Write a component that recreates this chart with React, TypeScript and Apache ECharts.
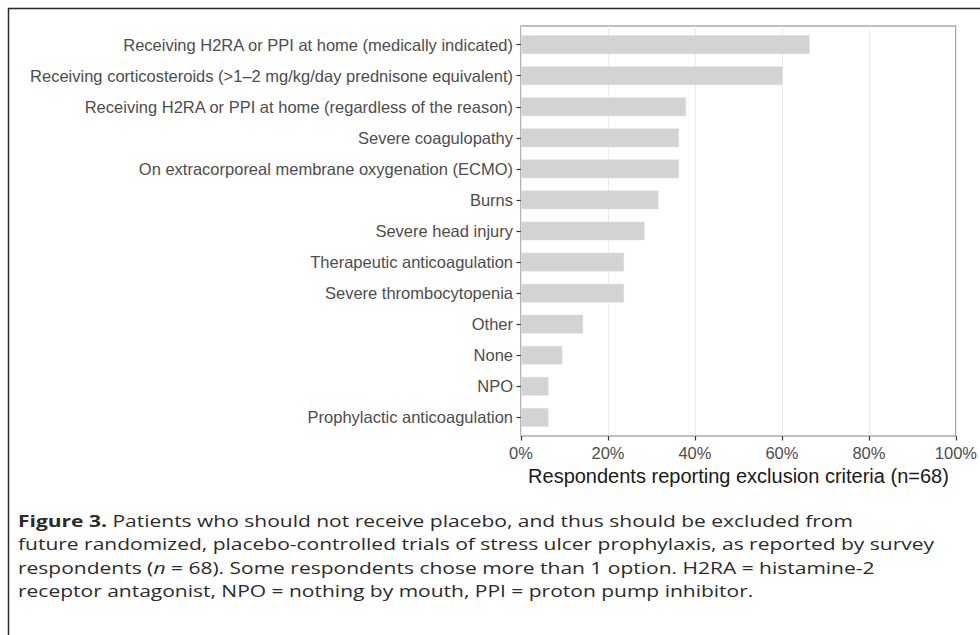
import React, { useEffect, useRef } from "react";
import * as echarts from "echarts";

const categories: string[] = [
  "Receiving H2RA or PPI at home (medically indicated)",
  "Receiving corticosteroids (>1\u20132 mg/kg/day prednisone equivalent)",
  "Receiving H2RA or PPI at home (regardless of the reason)",
  "Severe coagulopathy",
  "On extracorporeal membrane oxygenation (ECMO)",
  "Burns",
  "Severe head injury",
  "Therapeutic anticoagulation",
  "Severe thrombocytopenia",
  "Other",
  "None",
  "NPO",
  "Prophylactic anticoagulation",
];

const percentValues: number[] = [65.6, 59.4, 37.5, 35.9, 35.9, 31.25, 28.1, 23.4, 23.4, 14.1, 9.4, 6.25, 6.25];

const xTickValues: number[] = [0, 20, 40, 60, 80, 100];

const xAxisTitle = "Respondents reporting exclusion criteria (n=68)";

const captionLabel = "Figure 3.";
const captionLines: string[] = [
  " Patients who should not receive placebo, and thus should be excluded from",
  "future randomized, placebo-controlled trials of stress ulcer prophylaxis, as reported by survey",
  "respondents (",
  "receptor antagonist, NPO = nothing by mouth, PPI = proton pump inhibitor.",
];
const captionLine3Italic = "n";
const captionLine3Rest = " = 68). Some respondents chose more than 1 option. H2RA = histamine-2";

const AXIS_FONT = "'Liberation Sans', Arial, Helvetica, sans-serif";
const CAP_FONT = "'Open Sans', 'Noto Sans', sans-serif";

export default function App() {
  const ref = useRef<HTMLDivElement | null>(null);

  useEffect(() => {
    if (!ref.current) return;
    const chart = echarts.init(ref.current, null, { renderer: "svg" });

    const panelLeft = 521;
    const panelTop = 26;
    const panelW = 440;
    const panelH = 410;
    const pad = (0.1 * panelH) / 13.2;

    const capSize = 21;
    const capScaleY = 0.8;
    const capLH = 23.4 / capScaleY;
    const capColor = "#2b2b2b";
    const richBase = {
      r: { fontFamily: CAP_FONT, fontSize: capSize, color: capColor, lineHeight: capLH },
      b: { fontFamily: CAP_FONT, fontSize: capSize, color: capColor, fontWeight: "bold" as const, lineHeight: capLH },
      i: { fontFamily: CAP_FONT, fontSize: capSize, color: capColor, fontStyle: "italic" as const, lineHeight: capLH },
    };
    const captionText = [
      `{b|${captionLabel}}{r|${captionLines[0]}}`,
      `{r|${captionLines[1]}}`,
      `{r|${captionLines[2]}}{i|${captionLine3Italic}}{r|${captionLine3Rest}}`,
      `{r|${captionLines[3]}}`,
    ].join("\n");

    const option: echarts.EChartsOption = {
      animation: false,
      backgroundColor: "#ffffff",
      grid: [
        {
          left: panelLeft,
          top: panelTop,
          width: panelW,
          height: panelH,
          show: true,
          borderColor: "#808080",
          borderWidth: 1.2,
          backgroundColor: "transparent",
          z: 0,
        },
        {
          left: panelLeft,
          top: panelTop + pad,
          width: panelW,
          height: panelH - 2 * pad,
        },
      ],
      xAxis: [
        {
          type: "value",
          gridIndex: 0,
          min: 0,
          max: 100,
          interval: 20,
          axisLine: { show: false },
          axisTick: { show: true, length: 4.5, lineStyle: { color: "#333333", width: 1.2 } },
          axisLabel: {
            show: true,
            margin: 8.5,
            fontFamily: AXIS_FONT,
            fontSize: 16.5,
            color: "#4d4d4d",
            formatter: (v: number) => (xTickValues.includes(v) ? `${v}%` : ""),
          },
          splitLine: { show: true, lineStyle: { color: "#ebebeb", width: 1 } },
          name: xAxisTitle,
          nameLocation: "middle",
          nameGap: 24,
          nameTextStyle: { fontFamily: AXIS_FONT, fontSize: 20, color: "#1a1a1a" },
        },
        {
          type: "value",
          gridIndex: 1,
          min: 0,
          max: 100,
          show: false,
        },
      ],
      yAxis: [
        { type: "value", gridIndex: 0, show: false },
        {
          type: "category",
          gridIndex: 1,
          inverse: true,
          data: categories,
          axisLine: { show: false },
          axisTick: { show: true, alignWithLabel: true, length: 4.5, lineStyle: { color: "#333333", width: 1.2 } },
          axisLabel: {
            margin: 8,
            fontFamily: AXIS_FONT,
            fontSize: 16.5,
            color: "#4d4d4d",
            interval: 0,
          },
          splitLine: { show: false },
        },
      ],
      series: [
        {
          type: "bar",
          xAxisIndex: 1,
          yAxisIndex: 1,
          data: percentValues,
          barWidth: "60%",
          itemStyle: { color: "#d3d3d3", borderColor: "#dcdcdc", borderWidth: 0.5 },
          z: 2,
        },
      ],
      graphic: [
        {
          type: "rect",
          silent: true,
          shape: { x: 8.5, y: 8.5, width: 1100, height: 800 },
          style: { fill: "none", stroke: "#2a2a2a", lineWidth: 1.5 },
          z: 100,
        },
        {
          type: "text",
          x: 18,
          y: 509,
          scaleY: capScaleY,
          style: {
            text: captionText,
            rich: richBase,
            fontFamily: CAP_FONT,
            fontSize: capSize,
            fill: capColor,
            lineHeight: capLH,
          },
        },
      ],
    };

    chart.setOption(option);
    return () => chart.dispose();
  }, []);

  return (
    <div
      ref={ref}
      style={{ position: "fixed", left: 0, top: 0, width: 980, height: 635, background: "#fff" }}
    />
  );
}
